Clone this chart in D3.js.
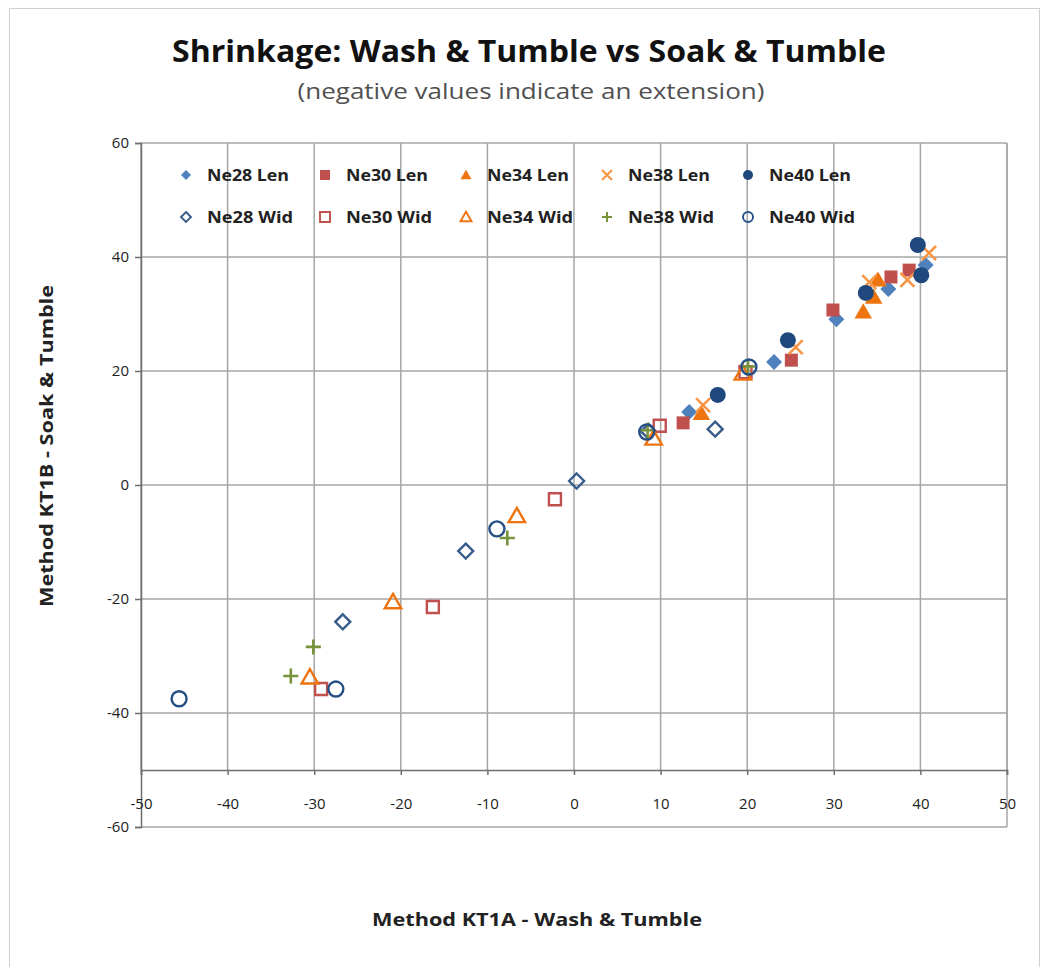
<!DOCTYPE html>
<html>
<head>
<meta charset="utf-8">
<script src="https://cdn.jsdelivr.net/npm/d3@7"></script>
<style>
  html, body { margin: 0; padding: 0; background: #fff; }
  svg { display: block; }
  text { font-family: "Open Sans", "Noto Sans", sans-serif; }
</style>
</head>
<body>
<svg id="chart" width="1044" height="967"></svg>
<script>
// Shrinkage (%) measured by two methods: [KT1A wash & tumble, KT1B soak & tumble]
const ne28Len = [[13.3, 12.8], [23.1, 21.6], [30.3, 29.1], [36.3, 34.4], [40.6, 38.6]];
const ne30Len = [[12.6, 10.9], [25.1, 21.9], [29.9, 30.7], [36.6, 36.5], [38.7, 37.7]];
const ne34Len = [[14.7, 12.6], [33.4, 30.4], [34.6, 33.0], [35.1, 36.0]];
const ne38Len = [[14.9, 14.0], [25.6, 24.2], [34.1, 35.6], [38.5, 36.0], [41.0, 40.7]];
const ne40Len = [[16.6, 15.8], [24.7, 25.4], [33.7, 33.7], [39.7, 42.1], [40.1, 36.8]];
const ne28Wid = [[-26.7, -24.0], [-12.5, -11.6], [0.3, 0.7], [8.6, 9.4], [16.3, 9.8]];
const ne30Wid = [[-29.2, -35.8], [-16.3, -21.4], [-2.2, -2.5], [9.9, 10.4], [19.8, 19.8]];
const ne34Wid = [[-30.5, -33.7], [-20.9, -20.5], [-6.6, -5.4], [9.2, 8.2], [19.5, 19.6]];
const ne38Wid = [[-32.7, -33.5], [-30.1, -28.4], [-7.7, -9.3], [8.5, 9.6], [20.1, 20.8]];
const ne40Wid = [[-45.6, -37.5], [-27.5, -35.8], [-8.9, -7.7], [8.4, 9.3], [20.2, 20.7]];

const seriesNames = ["Ne28 Len", "Ne30 Len", "Ne34 Len", "Ne38 Len", "Ne40 Len",
                     "Ne28 Wid", "Ne30 Wid", "Ne34 Wid", "Ne38 Wid", "Ne40 Wid"];
const seriesData = [ne28Len, ne30Len, ne34Len, ne38Len, ne40Len,
                    ne28Wid, ne30Wid, ne34Wid, ne38Wid, ne40Wid];

const xTicks = [-50, -40, -30, -20, -10, 0, 10, 20, 30, 40, 50];
const yTicks = [-60, -40, -20, 0, 20, 40, 60];

const titleText = "Shrinkage: Wash & Tumble vs Soak & Tumble";
const subtitleText = "(negative values indicate an extension)";
const xTitle = "Method KT1A - Wash & Tumble";
const yTitle = "Method KT1B - Soak & Tumble";

// marker style per series: shape, filled or outlined, colour
const styles = [
  { shape: "diamond",  fill: true,  color: "#4f81bd" },
  { shape: "square",   fill: true,  color: "#c0504d" },
  { shape: "triangle", fill: true,  color: "#ee7410" },
  { shape: "x",        fill: false, color: "#f79646" },
  { shape: "circle",   fill: true,  color: "#1f497d" },
  { shape: "diamond",  fill: false, color: "#385d8a" },
  { shape: "square",   fill: false, color: "#c0504d" },
  { shape: "triangle", fill: false, color: "#ee7410" },
  { shape: "plus",     fill: false, color: "#77933c" },
  { shape: "circle",   fill: false, color: "#264f85" }
];

const svg = d3.select("#chart");

// chart frame
svg.append("rect")
  .attr("x", 9.5).attr("y", 8.5).attr("width", 1030).attr("height", 1000)
  .attr("fill", "#fff").attr("stroke", "#d0d0d0").attr("stroke-width", 1);

const plot = { left: 141, right: 1007, top: 143, bottom: 827 };
const x = d3.scaleLinear().domain([-50, 50]).range([plot.left, plot.right]);
const y = d3.scaleLinear().domain([-60, 60]).range([plot.bottom, plot.top]);
const xAxisY = y(-50);
const fmt = d => String(d);

// horizontal gridlines
svg.append("g").selectAll("line").data(yTicks).join("line")
  .attr("x1", plot.left).attr("x2", plot.right)
  .attr("y1", d => y(d)).attr("y2", d => y(d))
  .attr("stroke", "#a6a6a6").attr("stroke-width", 1.5);

// vertical gridlines run from the top down to the x axis
svg.append("g").selectAll("line").data(xTicks).join("line")
  .attr("x1", d => x(d)).attr("x2", d => x(d))
  .attr("y1", plot.top).attr("y2", xAxisY)
  .attr("stroke", "#a6a6a6").attr("stroke-width", 1.5);

// right edge of the plot area
svg.append("line")
  .attr("x1", plot.right).attr("x2", plot.right)
  .attr("y1", plot.top).attr("y2", plot.bottom)
  .attr("stroke", "#a6a6a6").attr("stroke-width", 1.5);

// y axis at x = -50
const yAxis = d3.axisLeft(y).tickValues(yTicks).tickSize(6).tickPadding(6).tickFormat(fmt);
const gy = svg.append("g").attr("transform", `translate(${plot.left},0)`).call(yAxis);
gy.select(".domain").attr("stroke", "#6e6e6e").attr("stroke-width", 1.5);
gy.selectAll(".tick line").attr("stroke", "#6e6e6e").attr("stroke-width", 1.5);
gy.selectAll(".tick text").attr("font-size", 15).attr("fill", "#222")
  .attr("font-family", "'Open Sans', sans-serif");

// x axis crossing at y = -50
const xAxis = d3.axisBottom(x).tickValues(xTicks).tickSize(5).tickPadding(23).tickFormat(fmt);
const gx = svg.append("g").attr("transform", `translate(0,${xAxisY})`).call(xAxis);
gx.select(".domain").attr("stroke", "#6e6e6e").attr("stroke-width", 1.5);
gx.selectAll(".tick line").attr("stroke", "#6e6e6e").attr("stroke-width", 1.5);
gx.selectAll(".tick text").attr("font-size", 15).attr("fill", "#222")
  .attr("font-family", "'Open Sans', sans-serif");

// marker path generator
function markerPath(shape, s) {
  const h = s / 2;
  switch (shape) {
    case "diamond":  return `M0,${-h}L${h},0L0,${h}L${-h},0Z`;
    case "square":   return d3.symbol(d3.symbolSquare, s * s)();
    case "triangle": return `M0,${-h * 1.05}L${h * 1.1},${h * 0.85}L${-h * 1.1},${h * 0.85}Z`;
    case "circle":   return d3.symbol(d3.symbolCircle, Math.PI * h * h)();
    case "x":        return `M${-h},${-h}L${h},${h}M${-h},${h}L${h},${-h}`;
    case "plus":     return `M${-h},0L${h},0M0,${-h}L0,${h}`;
  }
}
const plotSize = { diamond: 16, square: 13, triangle: 16, circle: 16, x: 14, plus: 14 };
const openSize = { diamond: 15, square: 12, triangle: 15, circle: 15, x: 14, plus: 15 };

function styleMarker(sel, st, scale) {
  if (st.fill) {
    sel.attr("fill", st.color).attr("stroke", "none");
  } else {
    sel.attr("fill", "none").attr("stroke", st.color)
      .attr("stroke-width", (st.shape === "x" || st.shape === "plus" ? 2.6 : 2.4) * scale);
  }
}

// points, drawn series by series
seriesData.forEach((data, i) => {
  const st = styles[i];
  const size = st.fill ? plotSize[st.shape] : openSize[st.shape];
  const g = svg.append("g").attr("class", "series");
  g.selectAll("path").data(data).join("path")
    .attr("d", markerPath(st.shape, size))
    .attr("transform", d => `translate(${x(d[0])},${y(d[1])})`)
    .call(styleMarker, st, 1);
});

// legend: two rows of five inside the plot area
const legendCols = [186, 325, 466, 607, 748];
const legendRows = [175, 217];
const legend = svg.append("g");
seriesNames.forEach((name, i) => {
  const cx = legendCols[i % 5], cy = legendRows[Math.floor(i / 5)];
  const st = styles[i];
  legend.append("path")
    .attr("d", markerPath(st.shape, 10))
    .attr("transform", `translate(${cx},${cy})`)
    .call(styleMarker, st, 0.8);
  legend.append("text")
    .attr("x", cx + 21).attr("y", cy + 6)
    .attr("font-size", 16).attr("font-weight", 700).attr("fill", "#222")
    .attr("textLength", name.endsWith("Wid") ? 86 : 82)
    .attr("lengthAdjust", "spacingAndGlyphs")
    .text(name);
});

// titles
svg.append("text").attr("x", 529).attr("y", 62).attr("text-anchor", "middle")
  .attr("font-size", 30).attr("font-weight", 700).attr("fill", "#111")
  .attr("textLength", 714).attr("lengthAdjust", "spacingAndGlyphs")
  .text(titleText);
svg.append("text").attr("x", 531).attr("y", 99).attr("text-anchor", "middle")
  .attr("font-size", 21).attr("fill", "#505050")
  .attr("textLength", 467).attr("lengthAdjust", "spacingAndGlyphs")
  .text(subtitleText);
svg.append("text").attr("x", 537).attr("y", 926).attr("text-anchor", "middle")
  .attr("font-size", 18).attr("font-weight", 700).attr("fill", "#222")
  .attr("textLength", 330).attr("lengthAdjust", "spacingAndGlyphs")
  .text(xTitle);
svg.append("text").attr("transform", "translate(53,446) rotate(-90)")
  .attr("text-anchor", "middle")
  .attr("font-size", 18).attr("font-weight", 700).attr("fill", "#222")
  .attr("textLength", 322).attr("lengthAdjust", "spacingAndGlyphs")
  .text(yTitle);
</script>
</body>
</html>
